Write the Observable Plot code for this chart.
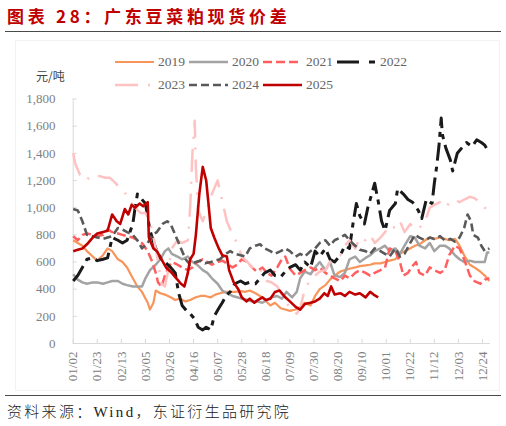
<!DOCTYPE html>
<html><head><meta charset="utf-8">
<script src="https://cdn.jsdelivr.net/npm/d3@7"></script>
<script src="https://cdn.jsdelivr.net/npm/@observablehq/plot@0.6"></script>
<style>
body{margin:0;background:#fff;}
#wrap{position:relative;width:506px;height:426px;overflow:hidden;background:#fff;font-family:"Liberation Serif","Noto Sans CJK SC",serif;}
#title{position:absolute;left:7px;top:4px;font-family:"Noto Sans CJK SC",sans-serif;font-weight:700;font-size:17px;letter-spacing:3.7px;color:#c00000;white-space:nowrap;line-height:24px;}
.rule{position:absolute;left:5px;width:496px;height:0;border-top:1.5px solid #4a4a4a;}
#frame{position:absolute;left:15px;top:40px;width:485px;height:351px;border:1px solid #f2f2f2;box-sizing:border-box;}
#unit{position:absolute;left:36px;top:68px;font-family:"Noto Sans CJK SC",sans-serif;font-size:12px;color:#404040;line-height:16px;}
#legend{position:absolute;left:115px;top:50px;width:300px;}
.lrow{display:flex;height:23.5px;align-items:center;}
.litem{display:flex;align-items:center;width:74px;}
.litem span{font-size:13.5px;color:#666;margin-left:4px;line-height:16px;}
#chart{position:absolute;left:0;top:90px;}
#caption{position:absolute;left:7px;top:401px;font-size:15px;letter-spacing:2.3px;color:#222;white-space:nowrap;line-height:20px;}
#caption .cjk{font-family:"Noto Sans CJK SC",sans-serif;font-weight:300;}
</style></head>
<body><div id="wrap">
<div id="title">图表 28：广东豆菜粕现货价差</div>
<div class="rule" style="top:30.5px"></div>
<div id="frame"></div>
<div id="unit">元/吨</div>
<div id="legend"></div>
<div id="chart"></div>
<div class="rule" style="top:394.5px"></div>
<div id="caption"><span class="cjk">资料来源：</span>Wind<span class="cjk">，东证衍生品研究院</span></div>
</div>
<script>
// x = day of year (leap-year calendar), y = 元/吨
const tickLabels = ["01/02","01/23","02/13","03/05","03/26","04/16","05/07","05/28","06/18","07/09","07/30","08/20","09/10","10/01","10/22","11/12","12/03","12/24"];
const tickDays = [2,23,44,65,86,107,128,149,170,191,212,233,254,275,296,317,338,359];
const yTicks = [0,200,400,600,800,1000,1200,1400,1600,1800];
const years = ["2019","2020","2021","2022","2023","2024","2025"];

const s2019 = [[2,760],[6,740],[10,720],[14,680],[19,640],[23,610],[28,650],[32,700],[36,680],[41,620],[45,600],[49,560],[54,480],[58,420],[62,380],[67,300],[69,250],[72,300],[74,390],[78,370],[82,360],[87,340],[91,320],[95,330],[100,310],[104,320],[109,340],[113,350],[117,350],[122,340],[126,360],[130,370],[135,380],[139,380],[143,380],[148,385],[152,380],[156,390],[161,370],[165,350],[169,320],[174,280],[178,300],[183,260],[187,250],[191,240],[196,250],[200,270],[204,300],[209,280],[213,350],[217,400],[222,430],[226,470],[230,500],[235,530],[239,540],[243,550],[248,560],[252,570],[257,575],[261,580],[265,590],[270,590],[274,600],[278,610],[283,620],[287,660],[291,680],[296,700],[300,720],[304,730],[309,760],[313,780],[317,770],[322,780],[326,770],[330,760],[335,770],[339,720],[343,650],[348,580],[352,560],[357,530],[361,500],[365,460]];
const s2020 = [[2,510],[6,470],[10,450],[14,440],[19,450],[23,450],[28,440],[32,450],[36,460],[41,460],[45,440],[49,430],[54,420],[58,420],[62,420],[65,480],[69,540],[74,580],[78,620],[82,680],[85,700],[88,660],[93,640],[97,620],[102,640],[106,600],[110,580],[115,540],[119,520],[123,480],[128,440],[132,390],[136,370],[141,350],[145,340],[149,330],[154,320],[158,310],[162,310],[167,300],[171,320],[175,340],[180,350],[184,330],[188,380],[193,340],[197,380],[200,480],[204,530],[209,510],[213,560],[217,600],[222,540],[226,600],[230,500],[235,490],[239,520],[243,620],[248,640],[252,600],[257,630],[261,650],[265,680],[270,700],[274,720],[278,680],[283,700],[287,660],[291,720],[296,790],[300,780],[304,720],[309,700],[313,740],[317,680],[322,720],[326,720],[330,700],[335,650],[339,620],[343,600],[348,610],[352,600],[357,600],[361,600],[363,670],[365,670]];
const s2021 = [[2,790],[6,760],[10,800],[14,810],[19,800],[23,790],[28,800],[32,840],[36,820],[41,810],[45,800],[49,790],[54,780],[58,760],[62,740],[67,680],[71,600],[74,520],[76,450],[79,420],[82,500],[85,560],[88,600],[93,580],[97,560],[102,540],[106,560],[110,600],[115,620],[119,600],[123,580],[128,600],[132,610],[136,590],[141,560],[145,580],[149,620],[154,600],[158,560],[162,530],[167,560],[171,520],[175,500],[180,560],[184,620],[187,640],[191,550],[196,500],[200,520],[204,540],[209,560],[213,540],[217,560],[222,520],[226,500],[230,480],[235,460],[239,500],[243,480],[248,520],[252,540],[257,520],[261,500],[265,520],[270,540],[274,560],[278,700],[283,680],[287,600],[290,500],[294,520],[297,560],[301,600],[304,520],[309,500],[313,560],[317,540],[322,520],[326,540],[330,650],[335,720],[339,700],[343,620],[348,500],[352,460],[357,440],[361,470],[365,480]];
const s2022 = [[2,460],[6,500],[10,560],[14,620],[19,630],[23,610],[28,620],[32,630],[36,780],[41,760],[45,740],[49,760],[54,880],[56,1000],[58,1100],[61,1070],[65,1030],[69,830],[74,700],[78,630],[82,600],[87,560],[91,520],[94,370],[97,280],[101,240],[104,220],[108,180],[111,120],[115,100],[118,120],[122,100],[125,200],[129,260],[132,300],[136,360],[139,380],[143,440],[148,460],[152,440],[156,450],[161,440],[165,480],[169,520],[174,540],[178,500],[183,490],[187,530],[191,560],[196,580],[200,540],[204,600],[209,560],[213,680],[217,640],[222,700],[226,620],[230,600],[235,650],[239,720],[243,700],[246,880],[249,1030],[252,940],[256,880],[259,1000],[263,1120],[265,1180],[268,1050],[271,900],[274,830],[278,980],[283,1030],[285,1140],[290,1100],[294,1060],[298,1040],[303,980],[306,920],[310,1060],[315,1030],[317,1180],[319,1300],[321,1450],[323,1660],[324,1540],[327,1440],[331,1350],[333,1270],[337,1400],[341,1440],[345,1480],[350,1450],[354,1500],[358,1480],[361,1460],[365,1400]];
const s2023 = [[2,1400],[4,1320],[8,1240],[13,1200],[17,1230],[21,1240],[26,1230],[30,1220],[34,1220],[39,1180],[43,1140],[48,1100],[52,1040],[56,1000],[61,960],[65,960],[69,900],[74,700],[76,600],[79,440],[82,420],[84,500],[88,700],[93,760],[97,740],[102,760],[104,1000],[106,1400],[108,1640],[109,1300],[111,980],[115,900],[119,1000],[123,1100],[128,1200],[132,1050],[136,900],[141,800],[145,740],[149,640],[154,600],[158,560],[162,580],[167,520],[171,460],[175,450],[180,420],[184,360],[188,300],[193,240],[197,220],[200,260],[204,400],[209,470],[213,500],[217,530],[222,540],[226,600],[230,620],[235,650],[239,720],[243,760],[248,700],[252,780],[257,760],[261,800],[265,740],[270,780],[274,820],[278,870],[283,850],[287,900],[291,820],[296,880],[300,840],[304,850],[309,900],[313,1000],[317,1020],[322,1040],[326,1000],[331,1040],[335,1060],[339,1040],[343,1060],[348,1080],[352,1070],[357,1040],[361,1000],[365,970]];
const s2024 = [[2,990],[6,980],[10,900],[14,800],[19,790],[23,780],[28,770],[32,780],[36,790],[41,850],[45,840],[49,820],[54,800],[58,760],[62,700],[67,740],[71,800],[75,820],[80,880],[84,900],[87,880],[91,800],[95,720],[100,620],[104,580],[109,600],[113,610],[117,590],[122,600],[126,610],[130,620],[135,660],[139,680],[143,660],[148,650],[152,640],[156,700],[161,720],[165,730],[169,700],[174,680],[178,660],[183,680],[187,700],[191,680],[196,640],[200,660],[204,640],[209,680],[213,700],[217,740],[222,760],[226,720],[230,760],[235,780],[239,800],[243,760],[248,720],[252,690],[257,680],[261,660],[265,700],[270,680],[274,660],[278,640],[283,700],[287,640],[291,660],[296,740],[300,800],[304,780],[309,760],[313,780],[317,770],[322,790],[326,760],[331,770],[335,750],[339,780],[343,850],[346,950],[349,900],[351,800],[355,780],[358,720],[361,680],[365,700]];
const s2025 = [[2,680],[6,690],[10,700],[14,730],[19,780],[23,810],[28,820],[32,830],[36,950],[40,900],[43,880],[47,990],[50,950],[53,1020],[56,1000],[60,1030],[63,1010],[67,1040],[68,780],[72,700],[75,680],[79,620],[83,560],[88,520],[92,480],[96,440],[99,420],[102,520],[104,620],[107,660],[109,800],[112,1100],[115,1300],[118,1200],[120,1030],[122,850],[125,780],[129,700],[132,650],[136,640],[138,540],[142,450],[146,400],[149,340],[153,310],[156,330],[160,300],[163,320],[167,340],[170,320],[174,330],[178,380],[182,390],[187,340],[191,310],[196,270],[200,250],[204,290],[209,300],[213,310],[217,330],[221,370],[224,350],[227,420],[230,360],[235,370],[239,350],[243,380],[248,360],[252,370],[257,340],[261,380],[264,360],[268,340]];

const seriesData = [s2019, s2020, s2021, s2022, s2023, s2024, s2025];
const colors = ["#f8955a","#a3a3a3","#ff5f5f","#1a1a1a","#ffc2c2","#595959","#c00000"];
const widths = [2.2,2.5,2.5,3,2.5,2.6,2.6];
const dashes = [null,null,"9,4","18,6,5,6","23,10,2,10","8,4",null];
const legendDashes = [null,null,"9,4","22,10,6,10","23,10,2,10","8,4",null];

// legend
const legend = document.getElementById("legend");
const rows = [[0,1,2,3],[4,5,6]];
for (const r of rows) {
  const row = document.createElement("div"); row.className = "lrow";
  for (const i of r) {
    const it = document.createElement("div"); it.className = "litem";
    const da = legendDashes[i];
    it.innerHTML = `<svg width="39" height="6"><line x1="0" y1="3" x2="39" y2="3" stroke="${colors[i]}" stroke-width="${widths[i]}" ${da ? `stroke-dasharray="${da}"` : ""}/></svg><span>${years[i]}</span>`;
    row.appendChild(it);
  }
  legend.appendChild(row);
}

const labelByDay = new Map(tickDays.map((d, i) => [d, tickLabels[i]]));
const axisColor = "#d9d9d9";

const lineMarks = seriesData.map((s, i) => Plot.line(s, {
  x: d => d[0], y: d => d[1], stroke: colors[i], strokeWidth: widths[i],
  strokeDasharray: dashes[i] || undefined, strokeLinejoin: "round", strokeLinecap: "butt"
}));

const chart = Plot.plot({
  width: 506, height: 300,
  marginTop: 8.5, marginBottom: 47, marginLeft: 72.7, marginRight: 16,
  style: {fontFamily: "Liberation Serif", fontSize: "13px", color: "#808080", background: "transparent"},
  x: {domain: [2, 366]},
  y: {domain: [0, 1800]},
  marks: [
    Plot.ruleX([2], {y1: 0, y2: 1800, stroke: axisColor}),
    Plot.ruleY(yTicks, {y: d => d, x1: 2, x2: 5.5, stroke: axisColor}),
    Plot.ruleX(tickDays, {x: d => d, y1: 0, y2: 30, stroke: axisColor}),
    Plot.ruleY([0], {x1: 2, x2: 366, stroke: axisColor}),
    Plot.axisY({ticks: yTicks, tickFormat: d3.format(","), tickSize: 0, tickPadding: 17.7, label: null}),
    Plot.axisX({ticks: tickDays, tickFormat: d => labelByDay.get(d), tickRotate: -90, tickSize: 0, tickPadding: 8, label: null}),
    ...lineMarks
  ]
});
document.getElementById("chart").appendChild(chart);
</script>
</body></html>
